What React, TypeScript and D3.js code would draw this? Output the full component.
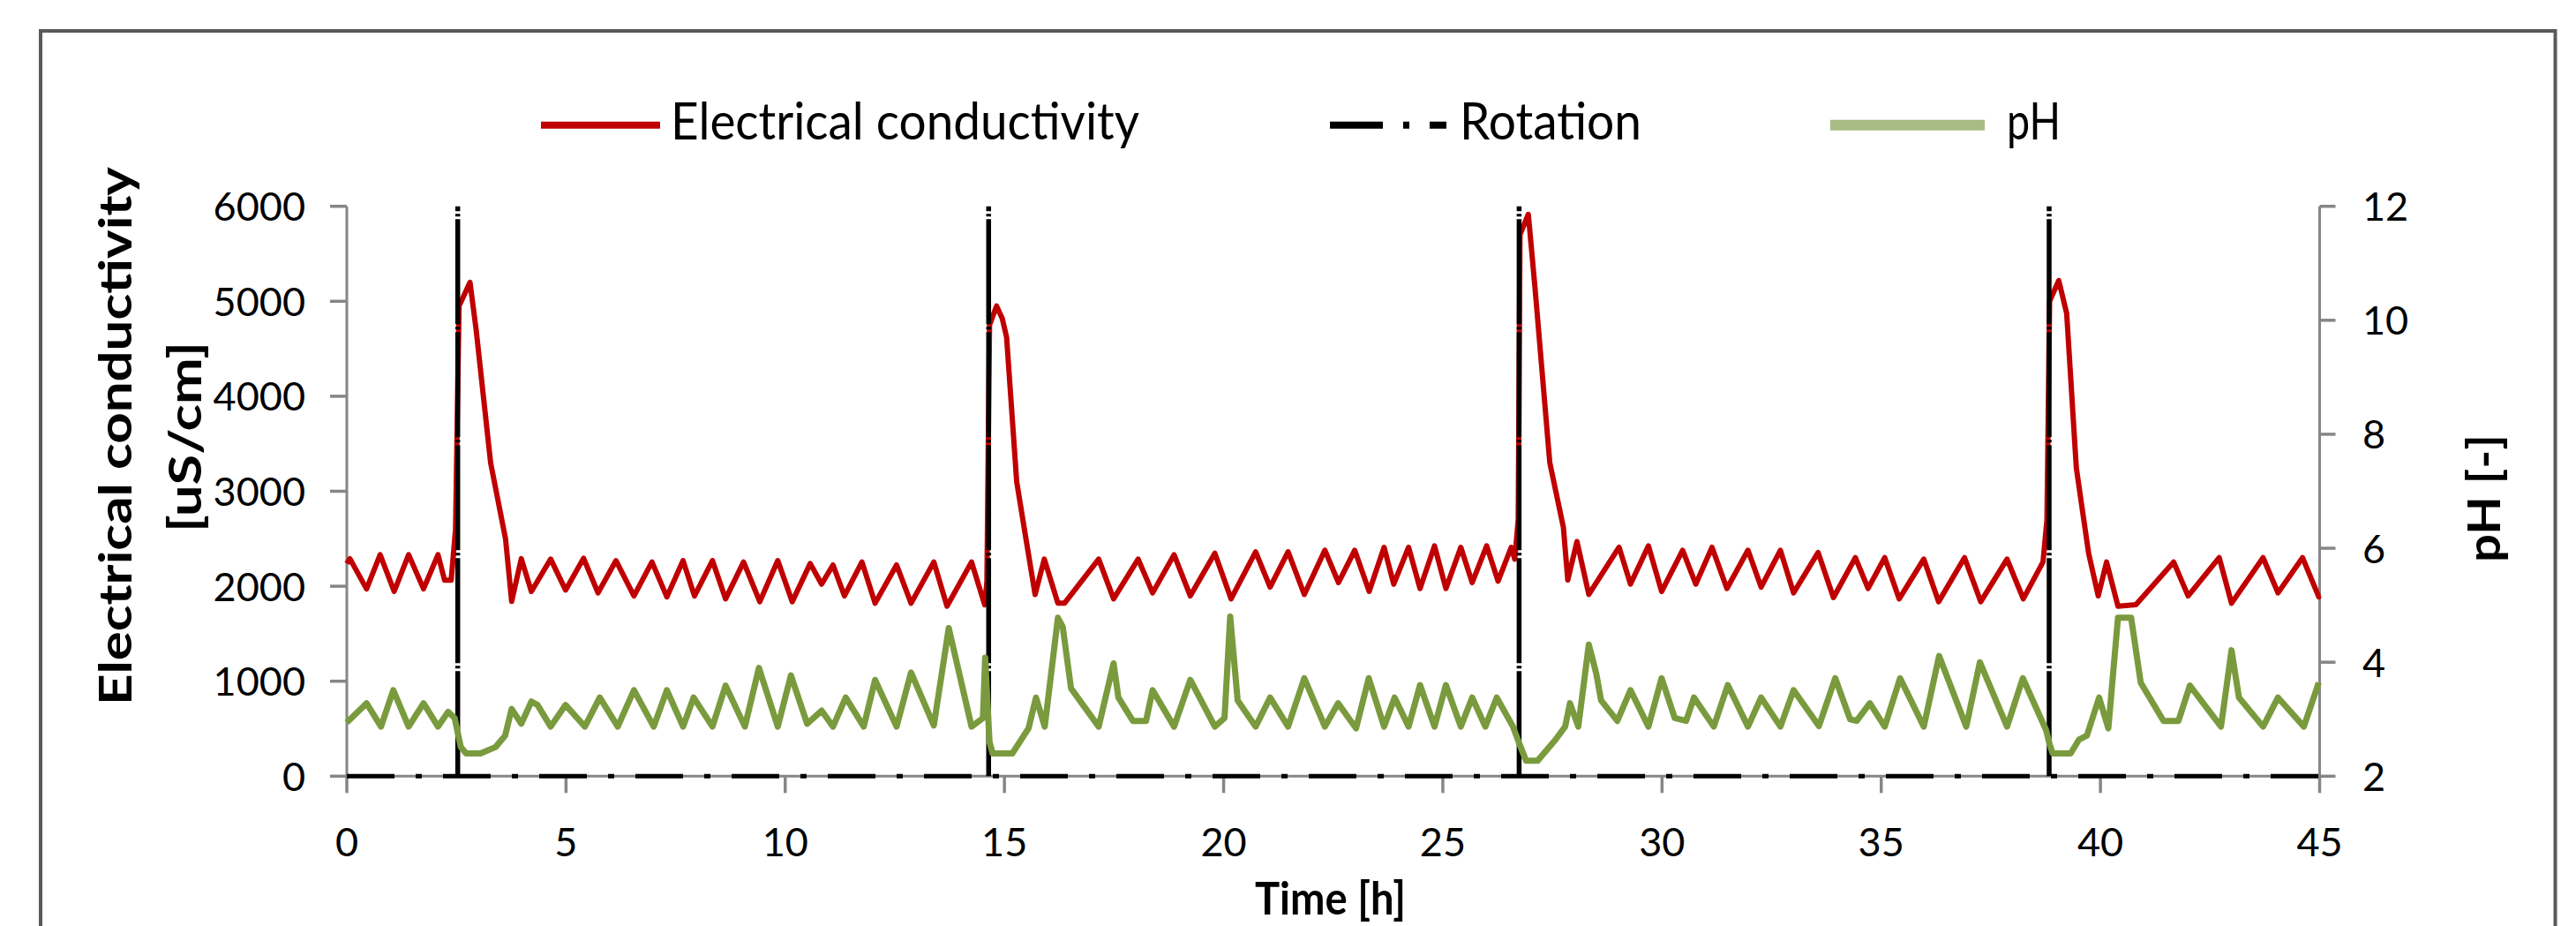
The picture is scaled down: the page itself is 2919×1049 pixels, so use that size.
import React from 'react';
import * as d3 from 'd3';

// ---- data ----
const ecTime = [0.00,0.07,0.45,0.76,1.08,1.41,1.75,2.08,2.23,2.38,2.48,2.56,2.81,2.95,3.28,3.62,3.76,3.98,4.21,4.65,4.99,5.40,5.73,6.14,6.55,6.96,7.30,7.67,7.93,8.34,8.64,9.05,9.42,9.83,10.16,10.57,10.83,11.09,11.35,11.75,12.05,12.54,12.87,13.39,13.69,14.25,14.55,14.60,14.66,14.82,14.95,15.05,15.28,15.48,15.70,15.91,16.22,16.37,17.15,17.49,18.05,18.38,18.87,19.24,19.80,20.17,20.73,21.06,21.47,21.84,22.31,22.62,22.99,23.32,23.66,23.88,24.22,24.48,24.81,25.07,25.41,25.67,26.00,26.26,26.56,26.64,26.72,26.76,26.95,27.10,27.44,27.75,27.85,28.06,28.33,29.02,29.28,29.69,29.99,30.47,30.77,31.14,31.48,31.96,32.26,32.70,33.00,33.56,33.91,34.41,34.70,35.08,35.41,35.97,36.31,36.90,37.27,37.87,38.24,38.69,38.78,38.84,39.05,39.23,39.45,39.73,39.95,40.14,40.40,40.81,41.67,42.00,42.71,42.99,43.71,44.05,44.61,44.98,45.00];
const ecValue = [2240,2290,1972,2332,1945,2332,1972,2332,2063,2063,2600,4950,5200,4700,3300,2500,1840,2290,1945,2286,1960,2295,1930,2270,1898,2255,1888,2270,1898,2270,1867,2255,1837,2270,1837,2239,2022,2224,1898,2255,1821,2224,1821,2255,1790,2255,1805,2050,4750,4950,4820,4620,3100,2530,1913,2286,1821,1821,2286,1867,2286,1930,2332,1898,2348,1867,2363,1991,2363,1913,2379,2038,2379,1945,2410,2022,2410,1976,2425,1976,2410,2038,2425,2053,2410,2286,2700,5700,5916,5156,3300,2620,2066,2470,1913,2410,2022,2425,1945,2379,2022,2410,1976,2379,1991,2379,1930,2355,1880,2301,1976,2301,1867,2286,1837,2301,1837,2286,1867,2255,2700,5000,5218,4873,3246,2348,1898,2255,1790,1805,2255,1898,2301,1821,2301,1930,2301,1888,1900];

const phTime = [0.00,0.45,0.78,1.06,1.41,1.75,2.08,2.31,2.46,2.60,2.72,3.05,3.39,3.61,3.76,3.98,4.21,4.35,4.65,4.99,5.43,5.77,6.18,6.55,7.00,7.30,7.67,7.91,8.34,8.64,9.08,9.40,9.83,10.13,10.50,10.83,11.09,11.38,11.79,12.05,12.54,12.87,13.39,13.73,14.25,14.51,14.56,14.66,14.73,15.18,15.55,15.72,15.92,16.22,16.33,16.52,17.15,17.49,17.60,17.93,18.23,18.38,18.87,19.24,19.80,20.02,20.15,20.32,20.73,21.06,21.47,21.84,22.31,22.61,23.02,23.31,23.66,23.90,24.22,24.48,24.81,25.07,25.41,25.67,25.97,26.23,26.60,26.75,26.90,27.16,27.57,27.79,27.90,28.09,28.33,28.50,28.61,28.98,29.28,29.69,29.99,30.29,30.55,30.73,31.18,31.50,31.96,32.26,32.70,33.00,33.58,33.95,34.29,34.44,34.74,35.08,35.43,35.97,36.32,36.94,37.25,37.87,38.23,38.76,38.84,38.91,39.32,39.51,39.69,39.97,40.18,40.40,40.70,40.92,41.44,41.78,42.04,42.75,42.99,43.16,43.71,44.05,44.64,44.98];
const phValue = [2.94,3.28,2.87,3.51,2.87,3.28,2.87,3.13,3.02,2.51,2.40,2.40,2.51,2.71,3.18,2.92,3.31,3.25,2.87,3.25,2.87,3.38,2.87,3.51,2.87,3.51,2.87,3.38,2.87,3.59,2.87,3.90,2.87,3.77,2.92,3.15,2.87,3.38,2.87,3.69,2.87,3.82,2.89,4.60,2.87,3.02,4.08,2.60,2.40,2.40,2.84,3.38,2.87,4.78,4.62,3.54,2.87,3.98,3.38,2.97,2.97,3.51,2.87,3.69,2.87,3.02,4.80,3.33,2.87,3.38,2.87,3.72,2.87,3.28,2.84,3.72,2.87,3.38,2.87,3.60,2.87,3.60,2.87,3.38,2.87,3.38,2.87,2.56,2.27,2.27,2.64,2.87,3.28,2.87,4.31,3.80,3.33,2.97,3.51,2.87,3.72,3.02,2.97,3.38,2.87,3.60,2.87,3.38,2.87,3.51,2.88,3.72,3.00,2.97,3.28,2.87,3.72,2.87,4.11,2.87,4.00,2.87,3.72,2.81,2.56,2.40,2.40,2.64,2.71,3.38,2.84,4.78,4.78,3.64,2.97,2.97,3.59,2.87,4.21,3.38,2.87,3.38,2.87,3.64];

const rotTime = [0, 2.53, 2.53, 2.53, 14.64, 14.64, 14.64, 26.74, 26.74, 26.74, 38.83, 38.83, 38.83, 45];
const rotValue = [0, 0, 6000, 0, 0, 6000, 0, 0, 6000, 0, 0, 6000, 0, 0];

const xTicks = [0, 5, 10, 15, 20, 25, 30, 35, 40, 45];
const ecTicks = [0, 1000, 2000, 3000, 4000, 5000, 6000];
const phTicks = [2, 4, 6, 8, 10, 12];
const legendLabels = ['Electrical conductivity', 'Rotation', 'pH'];
const xTitle = 'Time [h]';
const yTitleLines = ['Electrical conductivity', '[uS/cm]'];
const y2Title = 'pH [-]';

const FONT = "Lato, 'Open Sans', 'Liberation Sans', sans-serif";
const AXIS = '#868686';
const RED = '#C00000';
const GREEN = '#7A9A3E';
const GREEN_LEG = '#A8BB85';

export default function App() {
  const x = d3.scaleLinear().domain([0, 45]).range([393, 2628.5]);
  const yEC = d3.scaleLinear().domain([0, 6000]).range([879.3, 233.7]);
  const yPH = d3.scaleLinear().domain([2, 12]).range([879.3, 233.7]);

  const ecPath = d3.line<number>().x((_, i) => x(ecTime[i])).y((d) => yEC(d))(ecValue) || '';
  const phPath = d3.line<number>().x((_, i) => x(phTime[i])).y((d) => yPH(d))(phValue) || '';

  // split rotation series into horizontal runs (dash-dot) and vertical jumps (the up+down overlap reads as nearly solid)
  const horizPts: [number, number][][] = [];
  const vertSegs: { t: number; v0: number; v1: number }[] = [];
  let run: [number, number][] = [];
  for (let i = 0; i < rotTime.length; i++) {
    if (i > 0 && rotTime[i] === rotTime[i - 1]) {
      vertSegs.push({ t: rotTime[i], v0: rotValue[i - 1], v1: rotValue[i] });
    }
    run.push([rotTime[i], rotValue[i]]);
  }
  horizPts.push(run);
  const rotLine = d3.line<[number, number]>().x((d) => x(d[0])).y((d) => yEC(d[1]));
  const baseRun = horizPts[0].filter((d) => d[1] === 0);
  const basePath = rotLine(baseRun) || '';
  const upSegs = vertSegs.filter((s) => s.v1 > s.v0);

  const [x0, x1] = x.range();
  const [yb, yt] = yEC.range();

  return (
    <svg width={2919} height={1049} style={{ position: 'absolute', left: 0, top: 0, background: '#fff' }}>
      <rect x={0} y={0} width={2919} height={1049} fill="#fff" />
      {/* frame */}
      <rect x={46} y={35} width={2849.5} height={1100} fill="none" stroke="#595959" strokeWidth={4} />

      {/* legend */}
      <g fontFamily={FONT} fontSize={58} fill="#000">
        <line x1={613} x2={748} y1={141.7} y2={141.7} stroke={RED} strokeWidth={8} />
        <text x={760} y={158.3} textLength={531} lengthAdjust="spacingAndGlyphs">{legendLabels[0]}</text>
        <line x1={1507} x2={1639} y1={141.7} y2={141.7} stroke="#000" strokeWidth={8} strokeDasharray="60 23 7 23" />
        <text x={1654} y={158.3} textLength={206} lengthAdjust="spacingAndGlyphs">{legendLabels[1]}</text>
        <line x1={2074} x2={2249} y1={141.7} y2={141.7} stroke={GREEN_LEG} strokeWidth={12} />
        <text x={2274} y={158.3} textLength={61} lengthAdjust="spacingAndGlyphs">{legendLabels[2]}</text>
      </g>

      {/* axes lines */}
      <g stroke={AXIS} strokeWidth={3} fill="none">
        <line x1={x0} x2={x0} y1={yt} y2={yb} />
        <line x1={x1} x2={x1} y1={yt} y2={yb} />
        <line x1={x0} x2={x1} y1={yb} y2={yb} />
        {ecTicks.map((t) => (
          <line key={'lt' + t} x1={x0 - 19} x2={x0} y1={yEC(t)} y2={yEC(t)} strokeWidth={3.5} />
        ))}
        {phTicks.map((t) => (
          <line key={'rt' + t} x1={x1} x2={x1 + 18} y1={yPH(t)} y2={yPH(t)} strokeWidth={3.5} />
        ))}
        {xTicks.map((t) => (
          <line key={'bt' + t} x1={x(t)} x2={x(t)} y1={yb} y2={yb + 19} strokeWidth={3.5} />
        ))}
      </g>

      {/* tick labels */}
      <g fontFamily={FONT} fontSize={45} fill="#000">
        {ecTicks.map((t) => (
          <text key={'ll' + t} x={346} y={yEC(t) + 16.5} textAnchor="end">{t}</text>
        ))}
        {phTicks.map((t) => (
          <text key={'rl' + t} x={2677} y={yPH(t) + 16.5} textAnchor="start">{t}</text>
        ))}
        {xTicks.map((t) => (
          <text key={'bl' + t} x={x(t)} y={970} textAnchor="middle">{t}</text>
        ))}
      </g>

      {/* axis titles */}
      <g fontFamily={FONT} fontSize={52} fontWeight="bold" fill="#000">
        <text x={1422} y={1036} textLength={171} lengthAdjust="spacingAndGlyphs">{xTitle}</text>
        <text transform="translate(149,494) rotate(-90)" textAnchor="middle" textLength={610} lengthAdjust="spacingAndGlyphs">{yTitleLines[0]}</text>
        <text transform="translate(228,495) rotate(-90)" textAnchor="middle" textLength={216} lengthAdjust="spacingAndGlyphs">{yTitleLines[1]}</text>
        <text transform="translate(2833,564.5) rotate(-90)" textAnchor="middle" textLength={145} lengthAdjust="spacingAndGlyphs">{y2Title}</text>
      </g>

      {/* series */}
      <path d={ecPath} fill="none" stroke={RED} strokeWidth={6} strokeLinejoin="round" />
      <path d={basePath} fill="none" stroke="#000" strokeWidth={5} strokeDasharray="54 24 7 24" />
      {upSegs.map((s, i) => (
        <line
          key={'rv' + i}
          x1={x(s.t)}
          x2={x(s.t)}
          y1={yEC(s.v0)}
          y2={yEC(s.v1)}
          stroke="#000"
          strokeWidth={5.5}
          strokeDasharray="119 3 3 3"
        />
      ))}
      <path d={phPath} fill="none" stroke={GREEN} strokeWidth={7} strokeLinejoin="round" />
    </svg>
  );
}
